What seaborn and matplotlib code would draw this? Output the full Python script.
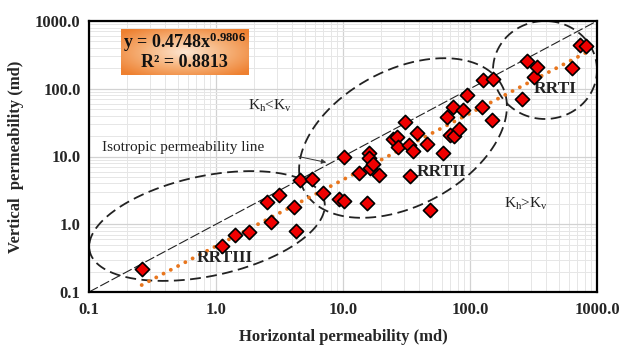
import numpy as np
import pandas as pd
import matplotlib
matplotlib.use("Agg")
import matplotlib.pyplot as plt
import seaborn as sns
from matplotlib.ticker import FixedLocator, LogLocator, NullFormatter, FixedFormatter
from matplotlib.colors import LinearSegmentedColormap

# ---------------- data ----------------
kh = [0.26, 1.12, 1.42, 1.83, 2.72, 2.50, 3.15, 4.11, 4.26, 4.58, 5.66, 7.0,
      9.25, 10.2, 10.2, 13.3, 15.4, 16.1, 16.1, 16.3, 17.3, 19.3, 24.9, 26.5,
      27.1, 30.6, 33.3, 35.8, 33.7, 38.5, 45.5, 48.4, 61, 65.5, 69.7, 73,
      74.8, 81.5, 88.5, 95, 124, 127, 148, 153, 256, 283, 321, 335, 631, 735, 815]
kv = [0.216, 0.48, 0.69, 0.78, 1.09, 2.13, 2.67, 1.82, 0.80, 4.5, 4.6, 2.93,
      2.38, 2.23, 9.9, 5.77, 2.04, 11.4, 9.4, 6.7, 7.7, 5.4, 17.9, 19.6,
      14.0, 32.3, 14.6, 11.9, 5.15, 22, 15.3, 1.62, 11.1, 38.7, 21, 54,
      20.1, 25.7, 48.5, 80, 54, 134, 34.6, 138, 71.3, 259, 148, 211, 202, 443, 428]
fit_a = 0.4748
fit_b = 0.9806
r_squared = 0.8813
tick_values = [0.1, 1, 10, 100, 1000]
tick_labels = ["0.1", "1.0", "10.0", "100.0", "1000.0"]
group_labels = ["RRTI", "RRTII", "RRTIII"]

df = pd.DataFrame({"kh": kh, "kv": kv})

# ---------------- style ----------------
sns.set_theme(style="white")
plt.rcParams["font.family"] = ["Liberation Serif", "DejaVu Serif"]
plt.rcParams["mathtext.fontset"] = "custom"
plt.rcParams["mathtext.rm"] = "Liberation Serif"
plt.rcParams["mathtext.it"] = "Liberation Serif:italic"
plt.rcParams["mathtext.bf"] = "Liberation Serif:bold"

W, H = 628, 348
fig = plt.figure(figsize=(W / 100, H / 100), dpi=100)
L, R, T, B = 89, 597, 21, 292
ax = fig.add_axes([L / W, 1 - B / H, (R - L) / W, (B - T) / H])
ax.set_xscale("log")
ax.set_yscale("log")
ax.set_xlim(tick_values[0], tick_values[-1])
ax.set_ylim(tick_values[0], tick_values[-1])

for axis in (ax.xaxis, ax.yaxis):
    axis.set_major_locator(FixedLocator(tick_values))
    axis.set_major_formatter(FixedFormatter(tick_labels))
    axis.set_minor_locator(LogLocator(base=10, subs=np.arange(2, 10)))
    axis.set_minor_formatter(NullFormatter())
ax.grid(True, which="major", color="#d2d2d2", lw=0.9, zorder=0)
ax.grid(True, which="minor", color="#e6e6e6", lw=0.7, zorder=0)
ax.set_axisbelow(True)
ax.tick_params(which="both", length=0)
ax.tick_params(axis="x", pad=7, labelsize=12)
ax.tick_params(axis="y", pad=6, labelsize=12)
for lab in ax.get_xticklabels() + ax.get_yticklabels():
    lab.set_fontweight("bold")
for s in ax.spines.values():
    s.set_color("black")
    s.set_linewidth(1.6)

# isotropic line
ax.plot(tick_values, tick_values, color="#222222", lw=0.8,
        ls=(0, (9, 2.5)), zorder=2)

# fitted power-law trend
xf = np.geomspace(min(kh), max(kh), 200)
ax.plot(xf, fit_a * xf ** fit_b, color="#E8761E", lw=2.8,
        ls=(0, (0.01, 2.1)), dash_capstyle="round", zorder=3)

# data points
sns.scatterplot(data=df, x="kh", y="kv", ax=ax, marker="D", s=52,
                color="#F00000", edgecolor="black", linewidth=1.2, zorder=4,
                legend=False)

# ellipses (drawn in axes-fraction space, sizes in pixels)
aw, ah = R - L, B - T
def ellipse(cx, cy, a, b, ang):
    t = np.linspace(0, 2 * np.pi, 400)
    th = np.deg2rad(ang)
    dx = a * np.cos(t) * np.cos(th) - b * np.sin(t) * np.sin(th)
    dy = a * np.cos(t) * np.sin(th) + b * np.sin(t) * np.cos(th)
    fx = (cx - L + dx) / aw
    fy = (B - cy + dy) / ah
    ax.plot(fx, fy, transform=ax.transAxes, color="#222222", lw=1.3,
            ls=(0, (6, 3)), zorder=2.5, clip_on=False)

ellipse(207, 226, 120, 50, 12)
ellipse(403, 138, 112, 68, 28)
ellipse(545, 70, 52, 49, 0)

def fa(px, py):
    return ((px - L) / aw, (B - py) / ah)

ax.text(*fa(555, 89), group_labels[0], transform=ax.transAxes, ha="center",
        va="center", fontsize=12.5, fontweight="bold", color="#222222")
ax.text(*fa(441, 172), group_labels[1], transform=ax.transAxes, ha="center",
        va="center", fontsize=12.5, fontweight="bold", color="#222222")
ax.text(*fa(225, 258), group_labels[2], transform=ax.transAxes, ha="center",
        va="center", fontsize=12.5, fontweight="bold", color="#222222")

ax.text(*fa(270, 106), r"K$_\mathrm{h}$<K$_\mathrm{v}$", transform=ax.transAxes,
        ha="center", va="center", fontsize=11, color="#222222")
ax.text(*fa(526, 204), r"K$_\mathrm{h}$>K$_\mathrm{v}$", transform=ax.transAxes,
        ha="center", va="center", fontsize=11, color="#222222")
ax.text(*fa(102, 147), "Isotropic permeability line", transform=ax.transAxes,
        ha="left", va="center", fontsize=11, color="#222222")
ax.annotate("", xy=fa(329, 163), xytext=fa(296, 156),
            xycoords="axes fraction", textcoords="axes fraction",
            arrowprops=dict(arrowstyle="-|>", color="#333333", lw=0.7,
                            mutation_scale=7))

ax.set_xlabel("Horizontal permeability (md)", fontsize=12, fontweight="bold",
              labelpad=8)
ax.set_ylabel("Vertical  permeability (md)", fontsize=12, fontweight="bold",
              labelpad=8)

# equation box with orange gradient
bx0, by0, bx1, by1 = 121, 29, 248, 75
bax = fig.add_axes([bx0 / W, 1 - by1 / H, (bx1 - bx0) / W, (by1 - by0) / H])
u = np.linspace(-1, 1, 200)
v = np.linspace(-1, 1, 80)
U, V = np.meshgrid(u, v)
rad = np.clip(np.sqrt(U ** 2 + V ** 2) / 1.3, 0, 1)
cmap = LinearSegmentedColormap.from_list("og", ["#FDE6D2", "#F6B27A", "#EE8030"])
bax.imshow(rad, cmap=cmap, aspect="auto", extent=[0, 1, 0, 1], vmin=0, vmax=1)
bax.set_xlim(0, 1)
bax.set_ylim(0, 1)
bax.axis("off")
bax.text(0.5, 0.70, r"y = %.4fx$^{\mathbf{%.4f}}$" % (fit_a, fit_b),
         ha="center", va="center", fontsize=13, fontweight="bold", color="#111111")
bax.text(0.5, 0.27, "R² = %.4f" % r_squared, ha="center", va="center",
         fontsize=13, fontweight="bold", color="#111111")

fig.savefig("out.png", dpi=100)
